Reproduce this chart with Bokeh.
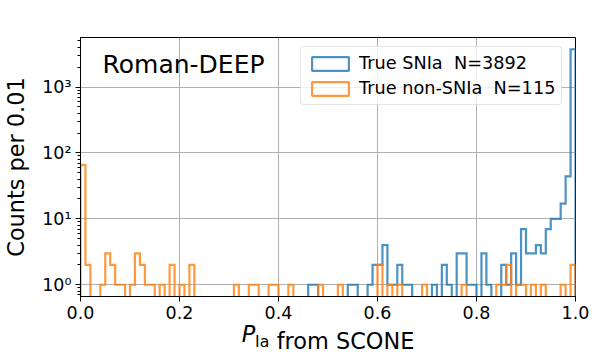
import numpy as np
from bokeh.plotting import figure
from bokeh.models import (Range1d, FixedTicker, CustomJSTickFormatter, Label,
                          Legend, LegendItem, LinearAxis)
from bokeh.embed import file_html
from bokeh.resources import INLINE

# ---- data (histogram, bin width 0.01 on P_Ia in [0, 1]) ----
bin_width = 0.01
n_bins = 100

# True SNIa: bin index -> counts
snia_bin = [46, 47, 54, 55, 58, 59, 60, 61, 62, 63, 64, 65, 66, 71, 73, 74, 76, 77,
            78, 79, 81, 82, 85, 86, 87, 88, 89, 90, 91, 92, 93, 94, 95, 96, 97, 98, 99]
snia_cnt = [1, 1, 1, 1, 1, 2, 2, 4, 1, 1, 2, 1, 1, 1, 2, 1, 3, 3,
            1, 1, 3, 1, 2, 1, 3, 1, 7, 3, 3, 4, 3, 7, 10, 10, 17, 44, 3742]

# True non-SNIa: bin index -> counts
non_bin = [0, 1, 4, 5, 6, 7, 8, 10, 11, 12, 13, 14, 16, 18, 20, 22, 31, 34, 35,
           38, 39, 42, 48, 52, 60, 62, 64, 69, 77, 84, 85, 86, 88, 89, 91, 93, 97, 99]
non_cnt = [66, 2, 1, 3, 2, 1, 1, 1, 3, 2, 1, 1, 1, 2, 1, 2, 1, 1, 1,
           1, 1, 1, 1, 1, 2, 1, 1, 1, 1, 1, 1, 2, 1, 1, 1, 1, 1, 2]

x_ticks = [0.0, 0.2, 0.4, 0.6, 0.8, 1.0]
y_ticks = [1, 10, 100, 1000]

BLUE = "#1f77b4"
ORANGE = "#ff7f0e"
FONT = "DejaVu Sans"


def full_counts(idx, cnt):
    c = np.zeros(n_bins)
    c[np.array(idx)] = np.array(cnt)
    return c


edges = np.arange(n_bins + 1) * bin_width
FLOOR = 1e-3  # zero-count bins drop below the visible range (like matplotlib)


def step_xy(counts):
    xs = [edges[0]]
    ys = [FLOOR]
    for k in range(n_bins):
        c = counts[k] if counts[k] > 0 else FLOOR
        xs += [edges[k], edges[k + 1]]
        ys += [c, c]
    xs.append(edges[-1])
    ys.append(FLOOR)
    return xs, ys


snia = full_counts(snia_bin, snia_cnt)
non = full_counts(non_bin, non_cnt)

allpos = np.concatenate([snia[snia > 0], non[non > 0]])
lo, hi = np.log10(allpos.min()), np.log10(allpos.max())
m = 0.05 * (hi - lo)

p = figure(frame_width=495, frame_height=259, output_backend="svg",
           toolbar_location=None,
           y_axis_type="log", x_range=Range1d(0, 1),
           y_range=Range1d(10 ** (lo - m), 10 ** (hi + m)),
           min_border_left=71, min_border_right=16, min_border_top=37,
           min_border_bottom=58)
p.background_fill_color = "white"
p.border_fill_color = "white"
p.outline_line_color = "black"
p.outline_line_width = 1
p.outline_line_alpha = 1

xs, ys = step_xy(snia)
r1 = p.line(xs, ys, line_color=BLUE, line_alpha=0.8, line_width=2.2, line_join="miter")
xs, ys = step_xy(non)
r2 = p.line(xs, ys, line_color=ORANGE, line_alpha=0.8, line_width=2.2, line_join="miter")

# legend proxies: outlined rectangles placed below the visible y range
q1 = p.quad(left=[edges[0]], right=[edges[1]], top=[FLOOR], bottom=[FLOOR / 2],
            fill_alpha=0, line_color=BLUE, line_alpha=0.8, line_width=2.2)
q2 = p.quad(left=[edges[0]], right=[edges[1]], top=[FLOOR], bottom=[FLOOR / 2],
            fill_alpha=0, line_color=ORANGE, line_alpha=0.8, line_width=2.2)

legend = Legend(items=[
    LegendItem(label=f"True SNIa  N={int(snia.sum())}", renderers=[q1]),
    LegendItem(label=f"True non-SNIa  N={int(non.sum())}", renderers=[q2]),
], location=(220, 191))
legend.margin = 0
legend.padding = 6
legend.spacing = 5
legend.glyph_width = 46
legend.glyph_height = 17
legend.label_standoff = 6
legend.label_text_font = FONT
legend.label_text_font_size = "17.7px"
legend.label_text_color = "black"
legend.border_line_color = "#cccccc"
legend.border_line_width = 1
legend.border_radius = 4
legend.background_fill_alpha = 0.8
p.add_layout(legend)

# axes
p.xaxis.ticker = FixedTicker(ticks=x_ticks)
p.xaxis.major_label_overrides = {t: f"{t:.1f}" for t in x_ticks}
minor = [b * d for d in [0.1, 1, 10, 100, 1000] for b in range(2, 10)]
p.yaxis.ticker = FixedTicker(ticks=y_ticks, minor_ticks=minor)
p.yaxis.formatter = CustomJSTickFormatter(code="""
const s = {0: '\u2070', 1: '\u00b9', 2: '\u00b2', 3: '\u00b3', 4: '\u2074'};
const e = Math.round(Math.log10(tick));
return '10' + s[e];
""")

for ax in (p.xaxis[0], p.yaxis[0]):
    ax.axis_line_color = "black"
    ax.major_tick_line_color = "black"
    ax.minor_tick_line_color = "black"
    ax.major_tick_in = 0
    ax.major_tick_out = 5
    ax.minor_tick_in = 0
    ax.minor_tick_out = 3
    ax.major_label_text_font = FONT
    ax.major_label_text_font_size = "17.5px"
    ax.major_label_text_color = "black"
    ax.axis_label_text_font = FONT
    ax.axis_label_text_font_size = "22.4px"
    ax.axis_label_text_font_style = "normal"
    ax.axis_label_text_color = "black"

p.xaxis.minor_tick_out = 0
p.xaxis.major_label_standoff = 4
p.yaxis.major_label_standoff = 4
p.yaxis.axis_label = "Counts per 0.01"
p.yaxis.axis_label_standoff = 10

p.xgrid.ticker = FixedTicker(ticks=x_ticks)
p.ygrid.ticker = FixedTicker(ticks=y_ticks)
for g in (p.xgrid[0], p.ygrid[0]):
    g.grid_line_color = "#b0b0b0"
    g.grid_line_width = 1


# x-axis label "P_Ia from SCONE": italic P, roman subscript, drawn as
# tick-label-only axes stacked below the main x axis
def label_axis(pos, text, size, style, standoff):
    ax = LinearAxis(ticker=FixedTicker(ticks=[pos]),
                    major_label_overrides={pos: text},
                    axis_line_color=None, major_tick_line_color=None,
                    minor_tick_line_color=None, major_tick_in=0, major_tick_out=0,
                    minor_tick_in=0, minor_tick_out=0,
                    major_label_standoff=standoff,
                    major_label_text_font=FONT,
                    major_label_text_font_size=size,
                    major_label_text_font_style=style,
                    major_label_text_color="black")
    p.add_layout(ax, "below")


label_axis(0.3394, "P", "22.4px", "italic", -1)
label_axis(0.3671, "Ia", "15.7px", "normal", -18)
label_axis(0.5354, "from SCONE", "22.4px", "normal", -26)

# panel annotation
p.add_layout(Label(x=22, y=232, x_units="screen", y_units="screen", text="Roman-DEEP",
                   text_font=FONT, text_font_size="25px", text_color="black",
                   text_baseline="alphabetic"))

open("out.html", "w").write(file_html(p, INLINE))
